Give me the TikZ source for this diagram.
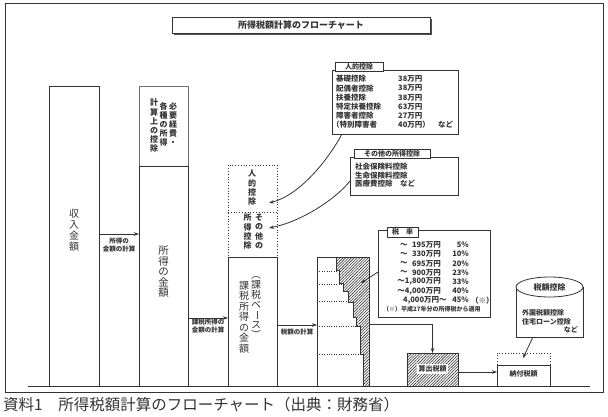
\documentclass[tikz,border=0pt]{standalone}
\usepackage{fontspec}
\setmainfont{Noto Sans CJK JP}
\usetikzlibrary{patterns.meta,arrows.meta,calc,shapes.geometric}
\definecolor{ink}{HTML}{333333}
\newcommand{\vbar}{\rotatebox[origin=c]{-90}{ー}}
\tikzset{
  ln/.style={draw=ink, line width=0.8pt},
  arr/.style={draw=ink, line width=0.8pt, -{Stealth[length=5pt,width=3.5pt]}},
  box/.style={ln, anchor=north west, inner sep=0, outer sep=0},
  vt/.style={text=ink, font=\fontsize{8}{9.2}\selectfont\bfseries, align=center, inner sep=0, anchor=north},
  vtbig/.style={text=ink, font=\fontsize{10}{11}\selectfont, align=center, inner sep=0, anchor=north},
  lbl/.style={text=ink, font=\fontsize{6.5}{8}\selectfont\bfseries, align=center, inner sep=0},
  row/.style={text=ink, font=\fontsize{7.5}{8}\selectfont\bfseries, anchor=west, inner sep=0},
  hatch/.style={pattern={Lines[angle=45,distance=2pt,line width=0.6pt]}, pattern color=ink},
  tabbox/.style={draw=ink, line width=0.7pt, fill=white, inner sep=0, minimum height=9pt, font=\fontsize{7}{8}\selectfont\bfseries, text=ink},
}
\begin{document}
\begin{tikzpicture}[x=1pt,y=-1pt]
\useasboundingbox (0,0) rectangle (608,417);
\draw[ln] (5,3) rectangle (603,392);
\draw[ln] (28,386) -- (590,386);
% title
\fill[ink!85] (174,19) rectangle (432,35);
\node[draw=ink, line width=0.7pt, fill=white, minimum width=258pt, minimum height=16pt, inner sep=0, font=\fontsize{9}{10}\selectfont\bfseries, text=ink] (title) at (301,25) {所得税額計算のフローチャート};
% column 1
\node[box, minimum width=50pt, minimum height=300pt] (inc) at (49,86) {};
\node[vtbig] (inct) at (74,209) {収\\入\\金\\額};
% column 2
\node[box, draw=ink!70, minimum width=49pt, minimum height=80pt] (exp) at (139,86) {};
\node[vt] (e1) at (173,102) {必\\要\\経\\費\\・};
\node[vt] (e2) at (163.5,102) {各\\種\\の\\所\\得};
\node[vt] (e3) at (154,99) {計\\算\\上\\の\\控\\除};
\node[box, minimum width=49pt, minimum height=220pt] (shot) at (139,166) {};
\node[vtbig, font=\fontsize{10.5}{10.5}\selectfont] (shott) at (163.5,246) {所\\得\\の\\金\\額};
% column 3
\node[box, dotted, minimum width=49pt, minimum height=92pt] (ded) at (228,165) {};
\draw[ln, dotted] (ded.west |- 0,212) -- (ded.east |- 0,212);
\node[vt] (dj) at (252,170) {人\\的\\控\\除};
\node[vt] (do1) at (259,214) {そ\\の\\他\\の};
\node[vt] (do2) at (247.5,214) {所\\得\\控\\除};
\node[box, minimum width=49pt, minimum height=129pt] (kaz) at (228,257) {};
\node[vtbig, font=\fontsize{10}{10.5}\selectfont] (kz1) at (244,281) {課\\税\\所\\得\\の\\金\\額};
\node[vtbig, font=\fontsize{10}{10}\selectfont] (kz2) at (256,276) {︵\\課\\税\\ベ\\\vbar\\ス\\︶};
% column 4 (stepped)
\path[hatch] (369,257) -- (336,257) -- (336,270) -- (339,270) -- (339,283) -- (343,283) -- (343,291) -- (348,291) -- (348,302) -- (353,302) -- (353,317) -- (356,317) -- (356,326) -- (360,326) -- (360,354) -- (363,354) -- (363,386) -- (369,386) -- cycle;
\draw[ink, dotted] (317,271) -- (339,271);
\draw[ink, dotted] (317,284) -- (343,284);
\draw[ink, dotted] (317,301) -- (348,301);
\draw[ink, dotted] (317,326) -- (356,326);
\draw[ink, dotted] (317,354) -- (360,354);
\draw[ink, line width=0.6pt] (336,257) -- (336,270) -- (339,270) -- (339,283) -- (343,283) -- (343,291) -- (348,291) -- (348,302) -- (353,302) -- (353,317) -- (356,317) -- (356,326) -- (360,326) -- (360,354) -- (363,354) -- (363,386);
\node[box, minimum width=52pt, minimum height=129pt] (zei) at (317,257) {};
% arrows between columns
\draw[arr] (inc.east |- 0,234) -- (shot.west |- 0,234);
\node[lbl] (l1) at (119,245) {所得の\\金額の計算};
\draw[arr] (shot.east |- 0,318) -- (kaz.west |- 0,318);
\node[lbl] (l2) at (208,326.5) {課税所得の\\金額の計算};
\draw[arr] (kaz.east |- 0,325) -- (zei.west |- 0,325);
\node[lbl] (l3) at (297,332.5) {税額の計算};
% personal deductions box
\node[box, fill=white, minimum width=126pt, minimum height=64pt] (pd) at (332,70) {};
\node[tabbox, minimum width=48pt] (pdtab) at (359,66.5) {人的控除};
\node[row] at (336,79) {基礎控除};
\node[row] at (336,88.2) {配偶者控除};
\node[row] at (336,97.4) {扶養控除};
\node[row] at (336,106.6) {特定扶養控除};
\node[row] at (336,115.8) {障害者控除};
\node[row] at (332,125) {（特別障害者};
\node[row] at (398,79) {38万円};
\node[row] at (398,88.2) {38万円};
\node[row] at (398,97.4) {38万円};
\node[row] at (398,106.6) {63万円};
\node[row] at (398,115.8) {27万円};
\node[row] at (398,125) {40万円）};
\node[row] at (438,125) {など};
% other deductions box
\node[box, fill=white, minimum width=108pt, minimum height=38pt] (oth) at (350,157) {};
\node[tabbox, minimum width=76pt] (othtab) at (392,154) {その他の所得控除};
\node[row] at (355,167) {社会保険料控除};
\node[row] at (355,175.5) {生命保険料控除};
\node[row] at (355,184) {医療費控除　など};
% curved arrows
\coordinate (pdT) at (269,203);
\coordinate (othT) at (269,228);
\draw[arr] ($(pd.south west)+(10,0)$) .. controls (328,160) and (300,195) .. (pdT);
\draw[arr] ($(oth.west)+(0,5)$) .. controls (335,200) and (300,222) .. (othT);
% tax rate box
\node[box, fill=white, minimum width=112pt, minimum height=87pt] (rate) at (378,230) {};
\node[tabbox, minimum width=31pt, minimum height=10pt] (ratetab) at (402.5,232) {税　率};
\foreach \y/\a/\p in {245/195万円/5\%, 254.2/330万円/10\%, 263.4/695万円/20\%, 272.6/900万円/23\%}{
  \node[row] at (400,\y) {～};
  \node[row, anchor=east] at (441,\y) {\a};
  \node[row, anchor=east] at (469,\y) {\p};
}
\node[row, anchor=east] at (441,281.8) {～1,800万円};
\node[row, anchor=east] at (469,281.8) {33\%};
\node[row, anchor=east] at (441,291) {～4,000万円};
\node[row, anchor=east] at (469,291) {40\%};
\node[row] at (403,300.2) {4,000万円～};
\node[row, anchor=east] at (469,300.2) {45\%};
\node[row] at (471,300.2) {（※）};
\node[row, font=\fontsize{6}{7}\selectfont\bfseries] at (383,309.5) {（※）平成27年分の所得税から適用};
\coordinate (hT) at (361,283);
\draw[arr] (rate.west |- 0,272) -- (hT);
% computed tax
\path[hatch] (407,353) rectangle (458,386);
\node[box, minimum width=51pt, minimum height=33pt] (calc) at (407,353) {};
\node[fill=white, inner sep=1.2pt, text=ink, font=\fontsize{7}{8}\selectfont\bfseries] (calct) at (432.5,369) {算出税額};
\draw[arr] (zei.east |- 0,324) -| (calc.north);
% payable tax
\node[box, dotted, minimum width=53pt, minimum height=12pt] (payd) at (497,353) {};
\node[box, minimum width=53pt, minimum height=21pt] (pay) at (497,365) {};
\node[text=ink, font=\fontsize{7}{8}\selectfont\bfseries, inner sep=0] (payt) at (523.5,374) {納付税額};
\draw[arr] (calc.east |- 0,372) -- (pay.west |- 0,372);
% tax credit
\node[box, fill=white, minimum width=67pt, minimum height=50pt] (cred) at (516,287) {};
\node[draw=ink, line width=0.8pt, ellipse, fill=white, minimum width=67pt, minimum height=20pt, inner sep=0, text=ink, font=\fontsize{8}{9}\selectfont\bfseries] (credh) at (549.5,287) {税額控除};
\node[row, font=\fontsize{7}{8}\selectfont\bfseries] at (522,313) {外国税額控除};
\node[row, font=\fontsize{7}{8}\selectfont\bfseries] at (522,321.5) {住宅ローン控除};
\node[row, font=\fontsize{7}{8}\selectfont\bfseries, anchor=east] at (578,330) {など};
\coordinate (payT) at (523,358);
\draw[arr] ($(cred.south west)+(17,0)$) -- (payT);
% caption
\node[anchor=west, font=\fontsize{15.5}{16}\selectfont, text=ink, inner sep=0] (cap) at (3,405) {資料1　所得税額計算のフローチャート（出典：財務省）};
\end{tikzpicture}
\end{document}
